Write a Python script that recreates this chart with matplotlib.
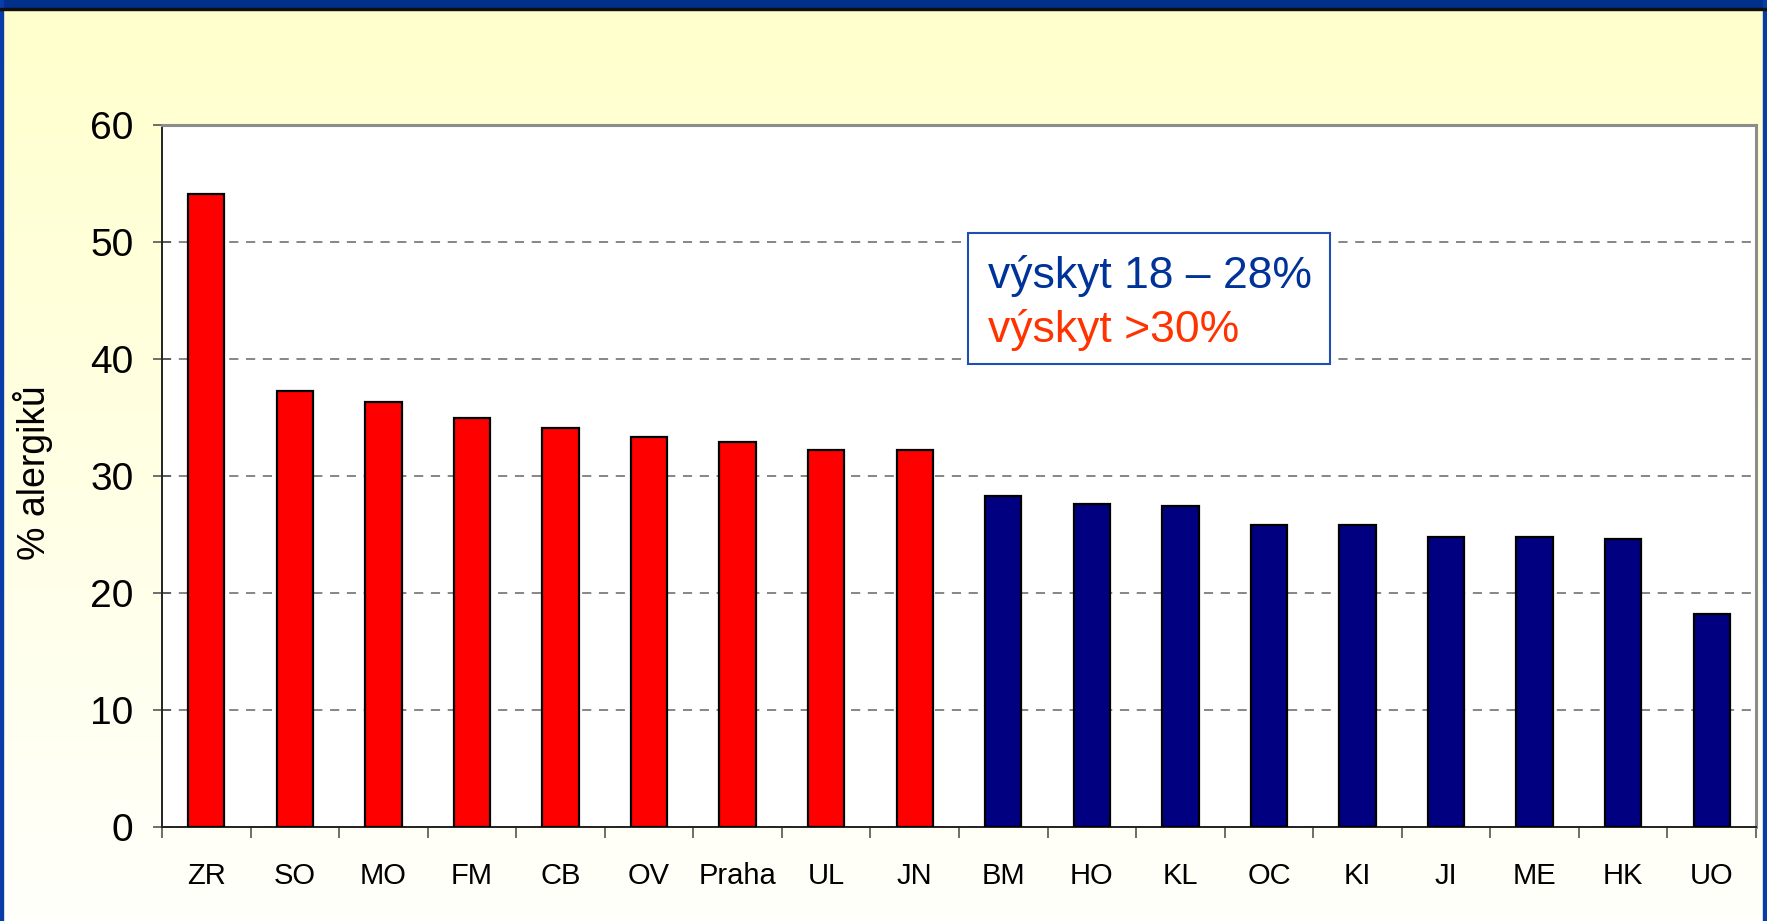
import numpy as np
import matplotlib
matplotlib.use("Agg")
import matplotlib.pyplot as plt
from matplotlib.patches import Rectangle
from matplotlib import font_manager

plt.rcParams["font.family"] = ["Liberation Sans", "DejaVu Sans"]

# data
regions = ["ZR", "SO", "MO", "FM", "CB", "OV", "Praha", "UL", "JN",
           "BM", "HO", "KL", "OC", "KI", "JI", "ME", "HK", "UO"]
pct_allergic = [54.1, 37.3, 36.3, 35.0, 34.1, 33.3, 32.9, 32.2, 32.2,
                28.3, 27.6, 27.4, 25.8, 25.8, 24.8, 24.8, 24.6, 18.2]
high_group = ["ZR", "SO", "MO", "FM", "CB", "OV", "Praha", "UL", "JN"]
y_ticks = [0, 10, 20, 30, 40, 50, 60]
legend_lines = ["výskyt 18 – 28%", "výskyt >30%"]

# narrow face for the legend if it is installed
try:
    font_manager.findfont("Liberation Sans Narrow", fallback_to_default=False)
    legend_family = ["Liberation Sans Narrow", "DejaVu Sans"]
    legend_size = 38
except ValueError:
    legend_family = ["Liberation Sans", "DejaVu Sans"]
    legend_size = 32

W, H = 1767, 921
fig = plt.figure(figsize=(W / 100, H / 100), dpi=100)

# pale yellow gradient background
bg = fig.add_axes([0, 0, 1, 1], zorder=-10)
grad = np.linspace(0, 1, 256).reshape(-1, 1)
top_c = np.array([1.0, 1.0, 0.80])
bot_c = np.array([1.0, 1.0, 0.985])
img = top_c[None, None, :] * (1 - grad[:, :, None]) + bot_c[None, None, :] * grad[:, :, None]
bg.imshow(img, aspect="auto", extent=[0, 1, 0, 1], origin="upper")
bg.set_xlim(0, 1)
bg.set_ylim(0, 1)
bg.axis("off")

# slide frame: dark blue band on top, thin blue borders on sides
bg.add_patch(Rectangle((0, 1 - 9 / H), 1, 9 / H, color="#00308c", zorder=2))
bg.add_patch(Rectangle((0, 1 - 10 / H), 1, 1.5 / H, color="#101010", zorder=3))
bg.add_patch(Rectangle((0, 0), 3 / W, 1, color="#0a3ca8", zorder=2))
bg.add_patch(Rectangle((1 - 4 / W, 0), 4 / W, 1, color="#0a3ca8", zorder=2))

left, right, top, bottom = 162, 1756, 125, 827
ax = fig.add_axes([left / W, 1 - bottom / H, (right - left) / W, (bottom - top) / H])
ax.set_facecolor("white")

x = np.arange(len(regions))
colors = ["#ff0000" if r in high_group else "#000080" for r in regions]
ax.bar(x, pct_allergic, width=0.41, color=colors, edgecolor="black", linewidth=1.6, zorder=3)

ax.set_xlim(-0.5, len(regions) - 0.5)
ax.set_ylim(0, 60)
ax.set_yticks(y_ticks)
ax.set_yticklabels([str(t) for t in y_ticks], fontsize=28)
ax.tick_params(axis="y", direction="inout", length=13, width=1.2, color="#555555", pad=14)

ax.set_xticks(x)
ax.set_xticklabels(regions, fontsize=21)
ax.tick_params(axis="x", which="major", length=0, pad=25)
ax.set_xticks(np.arange(-0.5, len(regions), 1), minor=True)
ax.tick_params(axis="x", which="minor", direction="out", length=8, width=1.2, color="#555555")

ax.yaxis.grid(True, linestyle=(0, (6, 5)), color="#666666", linewidth=1.1, zorder=0)
ax.set_axisbelow(True)

for s in ["left", "bottom"]:
    ax.spines[s].set_color("#222222")
    ax.spines[s].set_linewidth(1.4)
for s in ["top", "right"]:
    ax.spines[s].set_color("#8c8c8c")
    ax.spines[s].set_linewidth(2.2)

fig.text(33 / W, 1 - 473 / H, "% alergiků", rotation=90, fontsize=27,
         ha="center", va="center")

# legend box
bx0, by0, bx1, by1 = 968, 233, 1330, 364
box = Rectangle((bx0 / W, 1 - by1 / H), (bx1 - bx0) / W, (by1 - by0) / H,
                facecolor="white", edgecolor="#1f4fb0", linewidth=1.5,
                transform=fig.transFigure, zorder=20)
fig.patches.append(box)
fig.text(988 / W, 1 - 276 / H, legend_lines[0], fontsize=legend_size, color="#003399",
         family=legend_family, ha="left", va="center", zorder=21)
fig.text(988 / W, 1 - 330 / H, legend_lines[1], fontsize=legend_size, color="#ff3300",
         family=legend_family, ha="left", va="center", zorder=21)

fig.savefig("out.png", dpi=100)
